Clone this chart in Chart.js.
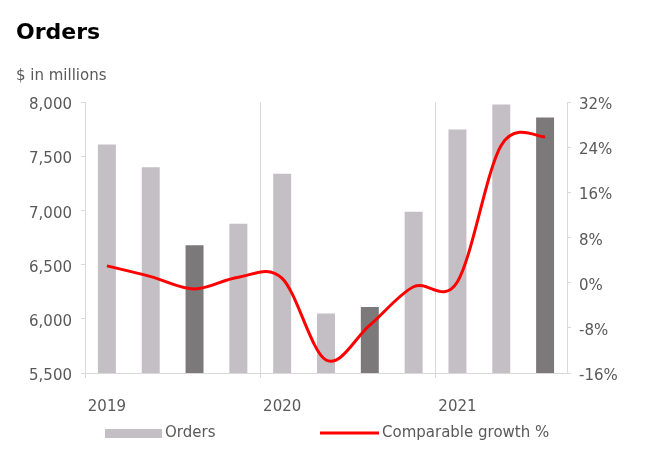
<!DOCTYPE html>
<html>
<head>
<meta charset="utf-8">
<script src="https://cdn.jsdelivr.net/npm/chart.js@4.4.1/dist/chart.umd.min.js"></script>
<style>
  html, body { margin: 0; padding: 0; background: #fff; }
</style>
</head>
<body>
<canvas id="chart" width="652" height="465"></canvas>
<script>
// quarters shown on the x axis (2021 Q4 not reported yet)
const quarters = ['Q1 2019', 'Q2 2019', 'Q3 2019', 'Q4 2019',
                  'Q1 2020', 'Q2 2020', 'Q3 2020', 'Q4 2020',
                  'Q1 2021', 'Q2 2021', 'Q3 2021'];
const orders = [7610, 7400, 6680, 6880, 7340, 6050, 6110, 6990, 7750, 7980, 7860];
const growth = [3.0, 1.1, -1.1, 1.0, 0.8, -13.7, -7.5, -0.7, 0.2, 24.4, 25.9];
const orderTicks = [5500, 6000, 6500, 7000, 7500, 8000];
const growthTicks = [-16, -8, 0, 8, 16, 24, 32];

const lightBar = '#c3bfc4';
const darkBar = '#7c797b';
const axisGrey = '#d9d9d9';
const textGrey = '#595959';

Chart.defaults.font.family = '"DejaVu Sans", sans-serif';
Chart.defaults.font.size = 15;
Chart.defaults.color = textGrey;

// excel style smoothing: plain catmull-rom control points on the scaled points
const excelSmooth = {
    id: 'excelSmooth',
    beforeDatasetDraw(chart, args) {
        const meta = args.meta;
        if (meta.type !== 'line') return;
        const pts = meta.data;
        pts.forEach((p, i) => {
            const prev = pts[Math.max(i - 1, 0)];
            const next = pts[Math.min(i + 1, pts.length - 1)];
            const dx = (next.x - prev.x) / 6;
            const dy = (next.y - prev.y) / 6;
            p.cp1x = p.x - dx;
            p.cp1y = p.y - dy;
            p.cp2x = p.x + dx;
            p.cp2y = p.y + dy;
        });
        meta.dataset._pointsUpdated = true;
        meta.dataset._path = undefined;
    }
};

const bottomLegend = {
    id: 'bottomLegend',
    afterDraw(chart) {
        const c = chart.ctx;
        const line = chart.data.datasets[0];
        const bars = chart.data.datasets[1];
        c.save();
        c.font = '15px "DejaVu Sans", sans-serif';
        c.textBaseline = 'middle';
        c.textAlign = 'left';

        c.fillStyle = lightBar;
        c.fillRect(105, 429, 57, 9);
        c.fillStyle = textGrey;
        c.fillText(bars.label, 165, 433.5);

        c.strokeStyle = line.borderColor;
        c.lineWidth = 3;
        c.beginPath();
        c.moveTo(320, 433);
        c.lineTo(379, 433);
        c.stroke();
        c.fillStyle = textGrey;
        c.fillText(line.label, 382, 433.5);
        c.restore();
    }
};

new Chart(document.getElementById('chart'), {
    type: 'bar',
    data: {
        labels: quarters,
        datasets: [{
            type: 'line',
            label: 'Comparable growth %',
            data: growth,
            yAxisID: 'y1',
            borderColor: '#ff0000',
            borderWidth: 3,
            pointRadius: 0,
            tension: 0.33,
            order: 0
        }, {
            type: 'bar',
            label: 'Orders',
            data: orders,
            yAxisID: 'y',
            backgroundColor: quarters.map(q => q.startsWith('Q3') ? darkBar : lightBar),
            barPercentage: 0.41,
            categoryPercentage: 1,
            order: 1
        }]
    },
    options: {
        responsive: false,
        animation: false,
        layout: { padding: { left: 16, right: 0, top: 0, bottom: 52 } },
        plugins: {
            legend: { display: false },
            tooltip: { enabled: false },
            title: {
                display: true,
                text: 'Orders',
                align: 'start',
                color: '#000',
                font: { size: 22, weight: 'bold' },
                padding: { top: 20, bottom: 0 }
            },
            subtitle: {
                display: true,
                text: '$ in millions',
                align: 'start',
                color: textGrey,
                font: { size: 15 },
                padding: { top: 21, bottom: 17 }
            }
        },
        scales: {
            x: {
                offset: true,
                grid: {
                    offset: true,
                    tickLength: 5,
                    color: c => (c.index % 4 === 0 ? axisGrey : 'rgba(0,0,0,0)')
                },
                border: { color: axisGrey },
                ticks: {
                    autoSkip: false,
                    maxRotation: 0,
                    padding: 20,
                    callback: (v, i) => (i % 4 === 0 ? quarters[i].slice(3) : '')
                },
                afterFit: s => { s.height = 40; }
            },
            y: {
                position: 'left',
                min: orderTicks[0],
                max: orderTicks[orderTicks.length - 1],
                grid: { drawOnChartArea: false, tickLength: 4, color: axisGrey },
                border: { color: axisGrey },
                ticks: {
                    stepSize: orderTicks[1] - orderTicks[0],
                    padding: 9,
                    labelOffset: 3,
                    callback: v => v.toLocaleString('en-US')
                },
                afterFit: s => { s.width = 69; }
            },
            y1: {
                position: 'right',
                min: growthTicks[0],
                max: growthTicks[growthTicks.length - 1],
                grid: { drawOnChartArea: false, tickLength: 4, color: axisGrey },
                border: { color: axisGrey },
                ticks: {
                    stepSize: growthTicks[1] - growthTicks[0],
                    padding: 8,
                    labelOffset: 3,
                    callback: v => v + '%'
                },
                afterFit: s => { s.width = 85; }
            }
        }
    },
    plugins: [excelSmooth, bottomLegend]
});
</script>
</body>
</html>
